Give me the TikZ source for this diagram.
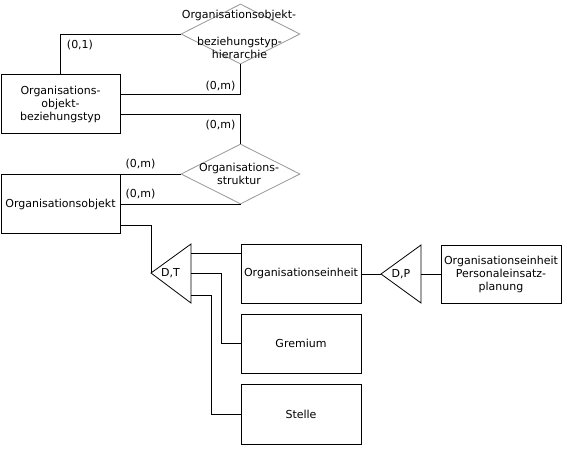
\documentclass[tikz,border=0pt]{standalone}
\usepackage{fontspec}
\setmainfont{DejaVu Sans}
\usetikzlibrary{shapes.geometric,calc}
\begin{document}
\begin{tikzpicture}[x=1pt,y=-1pt,
  ent/.style={draw=black, line width=0.9pt, minimum width=119pt, minimum height=59pt, inner sep=0pt, align=center, font=\fontsize{11}{13}\selectfont},
  rel/.style={draw=black!40, line width=0.8pt, diamond, minimum width=119pt, minimum height=60pt, inner sep=0pt},
  txt/.style={font=\fontsize{11}{12.5}\selectfont, align=center, inner sep=0pt},
  lbl/.style={font=\fontsize{11}{13}\selectfont, inner sep=0pt},
  con/.style={draw=black, line width=0.8pt},
  tri/.style={draw=black, line width=0.8pt, line join=miter}]
\useasboundingbox (0,0) rectangle (567,451);

% entities
\node[ent] (obt) at (60.5,104) {Organisations-\\objekt-\\beziehungstyp};
\node[ent] (oo) at (60.5,204) {Organisationsobjekt};
\node[ent, minimum width=120pt] (oe) at (301,273.5) {Organisationseinheit};
\node[ent, minimum width=120pt] (gr) at (301,343.5) {Gremium};
\node[ent, minimum width=120pt, minimum height=60pt] (st) at (301,414) {Stelle};
\node[ent, minimum width=120pt, minimum height=58pt] (oep) at (501,274) {Organisationseinheit\\Personaleinsatz-\\planung};

% relationships
\node[rel] (h) at (240.5,34) {};
\node[txt] (ht1) at (239,15) {Organisationsobjekt-};
\node[txt] (ht2) at (239.5,48) {beziehungstyp-\\hierarchie};
\node[rel] (s) at (240.5,174) {};
\node[txt] (st1) at (239,174) {Organisations-\\struktur};

% specialisation triangles
\coordinate (dtl) at (151,273);
\coordinate (dtt) at (191,244);
\coordinate (dtb) at (191,303);
\draw[tri] (dtl) -- (dtt) -- (dtb) -- cycle;
\node[txt] (dtx) at (170.5,273) {D,T};
\coordinate (dpl) at (381,274);
\coordinate (dpt) at (421,245);
\coordinate (dpb) at (421,303);
\draw[tri] (dpl) -- (dpt) -- (dpb) -- cycle;
\node[txt] (dpx) at (401,274) {D,P};

% connectors
\draw[con] (obt.north) |- (h.west);
\draw[con] ($(obt.east)+(0,-10)$) -| (h.south);
\draw[con] ($(obt.east)+(0,10)$) -| (s.north);
\draw[con] (s.west -| oo.east) -- (s.west);
\draw[con] (oo.east) -- (oo.east -| s.south);
\draw[con] ($(oo.east)+(0,21)$) -| (dtl);
\coordinate (dt1) at (191,253);
\coordinate (dt2) at (191,273);
\coordinate (dt3) at (191,295);
\draw[con] (dt1) -- (dt1 -| oe.west);
\draw[con] (dt2) -- ++(30,0) |- (gr.west);
\draw[con] (dt3) -- ++(20,0) |- (st.west);
\draw[con] (oe.east |- dpl) -- (dpl);
\coordinate (dpr) at (421,274);
\draw[con] (dpr) -- (oep.west);

% cardinalities
\node[lbl] (c1) at (80,45) {(0,1)};
\node[lbl] (c2) at (220.5,86) {(0,m)};
\node[lbl] (c3) at (220.5,125) {(0,m)};
\node[lbl] (c4) at (140.5,164) {(0,m)};
\node[lbl] (c5) at (140.5,194) {(0,m)};
\end{tikzpicture}
\end{document}
